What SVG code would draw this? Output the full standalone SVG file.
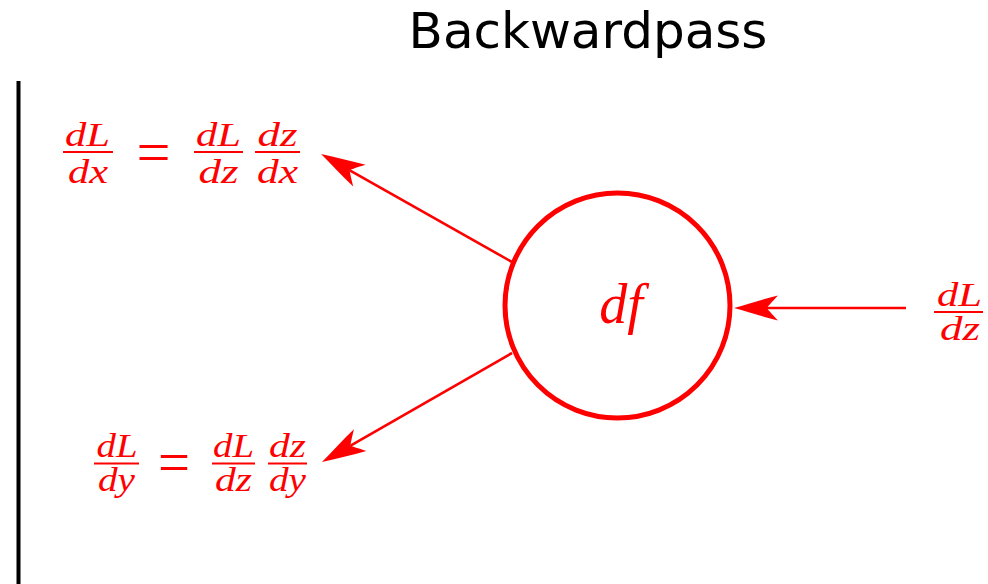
<svg xmlns="http://www.w3.org/2000/svg" width="988" height="584" viewBox="0 0 988 584">
<style>
.m{font-family:"Liberation Serif","Times New Roman",serif;font-style:italic;fill:#ff0000;text-anchor:middle}
.f{font-size:34px}
.eq{font-family:"Liberation Serif","Times New Roman",serif;font-size:60px;fill:#ff0000;text-anchor:middle}
.bar{stroke:#ff0000;stroke-width:2}
.conn{stroke:#ff0000;stroke-width:2.6;fill:none}
</style>
<defs>
<marker id="ah" markerUnits="userSpaceOnUse" markerWidth="50" markerHeight="30" viewBox="-46 -15 50 30" refX="-33" refY="0" orient="auto" overflow="visible">
<path d="M0,0 C-14,-4 -30,-9 -44,-12.5 C-38,-6 -34,-2 -33,0 C-34,2 -38,6 -44,12.5 C-30,9 -14,4 0,0 Z" fill="#ff0000"/>
</marker>
</defs>
<rect width="988" height="584" fill="#ffffff"/>
<text x="588" y="48" font-family="DejaVu Sans, sans-serif" font-size="50" text-anchor="middle" fill="#000000">Backwardpass</text>
<line x1="18.5" y1="81" x2="18.5" y2="584" stroke="#000000" stroke-width="4"/>
<g id="connectors">
<line class="conn" x1="906" y1="308" x2="767" y2="308" marker-end="url(#ah)"/>
<line class="conn" x1="512" y1="262" x2="349.8" y2="170.3" marker-end="url(#ah)"/>
<line class="conn" x1="512" y1="353" x2="350.6" y2="445.6" marker-end="url(#ah)"/>
</g>
<g id="node-df">
<circle cx="617.5" cy="305.5" r="112.5" fill="none" stroke="#ff0000" stroke-width="5"/>
<text class="m" x="621" y="323" font-size="56">df</text>
</g>
<g id="label-dLdz-in">
<text class="m f" x="959.5" y="306" textLength="45" lengthAdjust="spacingAndGlyphs">dL</text>
<line class="bar" x1="934" y1="312" x2="983" y2="312"/>
<text class="m f" x="960" y="340" textLength="40" lengthAdjust="spacingAndGlyphs">dz</text>
</g>
<g id="label-dLdx">
<text class="m f" x="87.5" y="146" textLength="45" lengthAdjust="spacingAndGlyphs">dL</text>
<line class="bar" x1="63" y1="152" x2="113" y2="152"/>
<text class="m f" x="88" y="183" textLength="40" lengthAdjust="spacingAndGlyphs">dx</text>
<text class="eq" x="153.5" y="172" textLength="34" lengthAdjust="spacingAndGlyphs">=</text>
<text class="m f" x="218.5" y="146" textLength="45" lengthAdjust="spacingAndGlyphs">dL</text>
<line class="bar" x1="194" y1="152" x2="243" y2="152"/>
<text class="m f" x="218.5" y="183" textLength="40" lengthAdjust="spacingAndGlyphs">dz</text>
<text class="m f" x="277.5" y="146" textLength="40" lengthAdjust="spacingAndGlyphs">dz</text>
<line class="bar" x1="255" y1="152" x2="300" y2="152"/>
<text class="m f" x="277.5" y="183" textLength="41" lengthAdjust="spacingAndGlyphs">dx</text>
</g>
<g id="label-dLdy">
<text class="m f" x="117" y="457" textLength="41" lengthAdjust="spacingAndGlyphs">dL</text>
<line class="bar" x1="94" y1="463.5" x2="139" y2="463.5"/>
<text class="m f" x="116.5" y="491" textLength="37" lengthAdjust="spacingAndGlyphs">dy</text>
<text class="eq" x="174" y="482" textLength="32" lengthAdjust="spacingAndGlyphs">=</text>
<text class="m f" x="233.5" y="457" textLength="41" lengthAdjust="spacingAndGlyphs">dL</text>
<line class="bar" x1="212" y1="463.5" x2="255" y2="463.5"/>
<text class="m f" x="233.5" y="491" textLength="37" lengthAdjust="spacingAndGlyphs">dz</text>
<text class="m f" x="287.5" y="457" textLength="37" lengthAdjust="spacingAndGlyphs">dz</text>
<line class="bar" x1="268" y1="463.5" x2="307" y2="463.5"/>
<text class="m f" x="287.5" y="491" textLength="37" lengthAdjust="spacingAndGlyphs">dy</text>
</g>
</svg>
